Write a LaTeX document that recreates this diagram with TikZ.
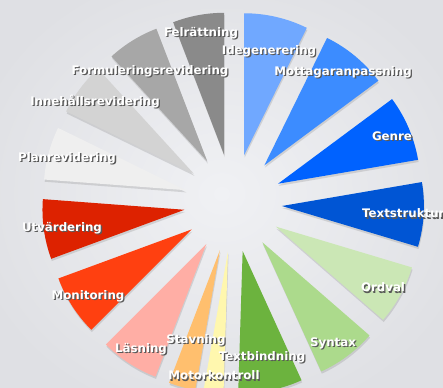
\documentclass[tikz,border=0pt]{standalone}
\usepackage{fontspec}
\setmainfont{DejaVu Sans}
\usetikzlibrary{calc,shadows}
\definecolor{bgin}{HTML}{F0F1F4}
\definecolor{bgout}{HTML}{DFE0E4}
\definecolor{cFel}{HTML}{8A8A8A}
\definecolor{cForm}{HTML}{A7A7A7}
\definecolor{cInne}{HTML}{D3D3D3}
\definecolor{cPlan}{HTML}{EFEFEF}
\definecolor{cUtv}{HTML}{DD2200}
\definecolor{cMon}{HTML}{FF4010}
\definecolor{cLas}{HTML}{FFAEA5}
\definecolor{cStav}{HTML}{FFBF6E}
\definecolor{cMot}{HTML}{FFF7AE}
\definecolor{cTbind}{HTML}{6CB33E}
\definecolor{cSyn}{HTML}{ACDA8C}
\definecolor{cOrd}{HTML}{CBE7B5}
\definecolor{cTstr}{HTML}{0055D4}
\definecolor{cGen}{HTML}{0062FF}
\definecolor{cMott}{HTML}{3C8CFF}
\definecolor{cIde}{HTML}{70A8FF}
% exploded pie slice: [colour](start:end), tip pushed out along the bisector
\def\pieslice[#1](#2:#3){\fill[#1,drop shadow={shadow xshift=0.6pt,shadow yshift=-2.2pt,opacity=0.25}] ($(C)+({49*cos((#2+#3)/2)},{49*sin((#2+#3)/2)})$) -- ++(#2:142pt) arc (#2:#3:142pt) -- cycle;}
\newcommand{\shtext}[1]{\makebox[0pt][l]{\hspace{1.3pt}\raisebox{-1.4pt}{\textcolor{black!65}{#1}}}\textcolor{white}{#1}}
\tikzset{lbl/.style={inner sep=0pt,font=\fontsize{11.8}{14}\selectfont\bfseries}}

\begin{document}
\begin{tikzpicture}[x=1pt,y=1pt]
		%%%%% START %%%%%
		\useasboundingbox (0,0) rectangle (443,387);
		\clip (0,0) rectangle (443,387);
		\shade[inner color=bgin,outer color=bgout] (-40,-40) rectangle (483,427);
		\coordinate (C) at (233,184);
		
		\pieslice[cTstr](-16.7:9.7)
		\pieslice[cGen](9.7:36.6)
		\pieslice[cMott](36.6:63.8)
		\pieslice[cIde](63.8:90)
		\pieslice[cFel](90:111)
		\pieslice[cForm](111:132.4)
		\pieslice[cInne](132.4:154)
		\pieslice[cPlan](154:175.7)
		\pieslice[cUtv](175.7:200.2)
		\pieslice[cMon](200.2:225)
		\pieslice[cLas](225:249)
		\pieslice[cStav](249:260)
		\pieslice[cMot](260:268.2)
		\pieslice[cTbind](268.2:294.5)
		\pieslice[cSyn](294.5:319)
		\pieslice[cOrd](319:343.3)
		
		\node[lbl] (fel) at (201,353) {\shtext{Felrättning}};
		\node[lbl] (ide) at (269,335) {\shtext{Idegenerering}};
		\node[lbl] (mott) at (343,314) {\shtext{Mottagaranpassning}};
		\node[lbl] (form) at (150,315) {\shtext{Formuleringsrevidering}};
		\node[lbl] (inne) at (95,285) {\shtext{Innehållsrevidering}};
		\node[lbl] (plan) at (67,228) {\shtext{Planrevidering}};
		\node[lbl] (genre) at (392,250) {\shtext{Genre}};
		\node[lbl,anchor=west] (tstr) at (362,173) {\shtext{Textstruktur}};
		\node[lbl] (utv) at (62,158) {\shtext{Utvärdering}};
		\node[lbl] (ordval) at (383,99) {\shtext{Ordval}};
		\node[lbl] (mon) at (88,90) {\shtext{Monitoring}};
		\node[lbl] (syn) at (333,43) {\shtext{Syntax}};
		\node[lbl] (las) at (141,37) {\shtext{Läsning}};
		\node[lbl] (stav) at (196,46) {\shtext{Stavning}};
		\node[lbl] (tbind) at (262,29) {\shtext{Textbindning}};
		\node[lbl] (mot) at (214,11) {\shtext{Motorkontroll}};
		%%%%% END %%%%%
\end{tikzpicture}
\end{document}
